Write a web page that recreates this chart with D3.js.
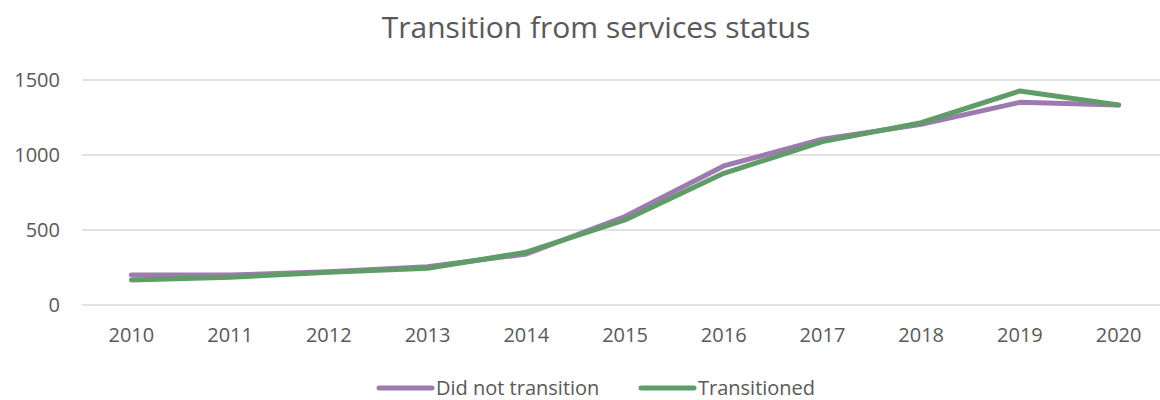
<!DOCTYPE html>
<head>
  <meta charset="utf-8">
  <title>Transition from services status</title>
</head>
<style>
  body { margin: 0; background: #fff; }
  svg text { font-family: "Open Sans", "Noto Sans", sans-serif; fill: #595959; }
  .grid line { stroke: #d9d9d9; stroke-width: 1.3; }
  .series { fill: none; stroke-width: 5; stroke-linejoin: round; stroke-linecap: round; }
</style>
<svg width="1160" height="400"></svg>
<script src="https://d3js.org/d3.v7.min.js"></script>
<script>
  var years = ["2010", "2011", "2012", "2013", "2014", "2015", "2016", "2017", "2018", "2019", "2020"];
  var didNotTransition = [200, 200, 222, 255, 340, 590, 927, 1105, 1204, 1351, 1333];
  var transitioned = [167, 185, 218, 245, 352, 567, 878, 1089, 1215, 1427, 1333];
  var yTicks = [0, 500, 1000, 1500];
  var seriesNames = ["Did not transition", "Transitioned"];
  var seriesColors = ["#9d7bb0", "#5f9c68"];

  var svg = d3.select("svg"),
    plotLeft = 82, plotRight = 1168, plotTop = 80, plotBottom = 305;

  var x = d3.scalePoint()
    .domain(years)
    .range([plotLeft, plotRight])
    .padding(0.5);

  var y = d3.scaleLinear()
    .domain([0, 1500])
    .range([plotBottom, plotTop]);

  svg.append("text")
    .attr("x", 596)
    .attr("y", 38)
    .attr("text-anchor", "middle")
    .style("font-size", "30px")
    .text("Transition from services status");

  // gridlines
  svg.append("g")
    .attr("class", "grid")
    .selectAll("line")
    .data(yTicks)
    .enter().append("line")
    .attr("x1", plotLeft)
    .attr("x2", 1160)
    .attr("y1", function (d) { return y(d); })
    .attr("y2", function (d) { return y(d); });

  svg.append("g")
    .selectAll("text")
    .data(yTicks)
    .enter().append("text")
    .attr("x", 60)
    .attr("y", function (d) { return y(d) + 7; })
    .attr("text-anchor", "end")
    .style("font-size", "20px")
    .text(function (d) { return d; });

  svg.append("g")
    .selectAll("text")
    .data(years)
    .enter().append("text")
    .attr("x", function (d) { return x(d); })
    .attr("y", 342)
    .attr("text-anchor", "middle")
    .style("font-size", "20px")
    .text(function (d) { return d; });

  var line = d3.line()
    .x(function (d, i) { return x(years[i]); })
    .y(function (d) { return y(d); });

  [didNotTransition, transitioned].forEach(function (vals, i) {
    svg.append("path")
      .attr("class", "series")
      .attr("stroke", seriesColors[i])
      .attr("d", line(vals));
  });

  // legend
  var legendX = [379, 641];
  var legend = svg.selectAll(".legend")
    .data(seriesNames)
    .enter().append("g")
    .attr("class", "legend")
    .attr("transform", function (d, i) { return "translate(" + legendX[i] + ",388)"; });

  legend.append("line")
    .attr("x1", 0)
    .attr("x2", 53)
    .attr("stroke", function (d, i) { return seriesColors[i]; })
    .attr("stroke-width", 5)
    .attr("stroke-linecap", "round");

  legend.append("text")
    .attr("x", 57)
    .attr("y", 7)
    .style("font-size", "20px")
    .text(function (d) { return d; });
</script>
